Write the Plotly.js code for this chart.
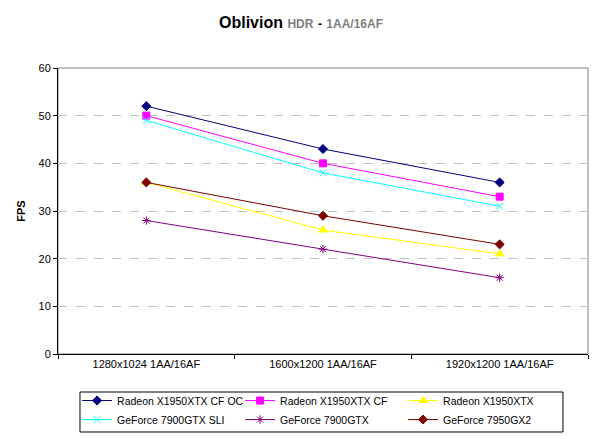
<!DOCTYPE html>
<html>
<head>
<meta charset="utf-8">
<script src="https://cdn.plot.ly/plotly-3.0.1.min.js"></script>
<style>html,body{margin:0;padding:0;background:#fff;}#chart{width:602px;height:439px;}</style>
</head>
<body>
<div id="chart"></div>
<script>
var categories = ["1280x1024 1AA/16AF", "1600x1200 1AA/16AF", "1920x1200 1AA/16AF"];
var seriesNames = ["Radeon X1950XTX CF OC", "Radeon X1950XTX CF", "Radeon X1950XTX", "GeForce 7900GTX SLI", "GeForce 7900GTX", "GeForce 7950GX2"];
var radeonCfOc = [52, 43, 36];
var radeonCf = [50, 40, 33];
var radeonXtx = [36, 26, 21];
var geforceSli = [49, 38, 31];
var geforce7900 = [28, 22, 16];
var geforceGx2 = [36, 29, 23];
var yTicks = [0, 10, 20, 30, 40, 50, 60];

var values = [radeonCfOc, radeonCf, radeonXtx, geforceSli, geforce7900, geforceGx2];
var colors = ["#000080", "#FF00FF", "#FFFF00", "#00FFFF", "#800080", "#800000"];
var symbols = ["diamond", "square", "triangle-up", "x-thin-open", "asterisk-open", "diamond"];
var sizes = [7, 7, 8, 7, 7, 7];

var traces = values.map(function (v, i) {
  return {
    type: "scatter",
    mode: "lines+markers",
    name: seriesNames[i],
    x: categories,
    y: v,
    line: {color: colors[i], width: 1},
    marker: {color: colors[i], symbol: symbols[i], size: sizes[i], line: {color: colors[i], width: 1}}
  };
});

var font = "Arial, 'Liberation Sans', sans-serif";
var layout = {
  width: 602, height: 439,
  margin: {l: 58, r: 14, t: 68, b: 85, autoexpand: false},
  paper_bgcolor: "#fff", plot_bgcolor: "#fff",
  font: {family: font, size: 11, color: "#000"},
  showlegend: true,
  title: {
    text: "<b>Oblivion</b> <b><span style='font-size:12px;color:#808080'>HDR</span></b> <b><span style='font-size:12px'>-</span></b> <b><span style='font-size:12px;color:#808080'>1AA/16AF</span></b>",
    font: {family: font, size: 16, color: "#000"},
    x: 0.5, xref: "container", xanchor: "center",
    y: 0.95, yref: "container", yanchor: "middle"
  },
  xaxis: {
    type: "category",
    range: [-0.5, 2.5],
    tickson: "boundaries",
    ticks: "outside", ticklen: 4, tickcolor: "#000",
    showline: true, linecolor: "#000", linewidth: 1,
    showgrid: false, zeroline: false,
    tickfont: {family: font, size: 11, color: "#000"},
    fixedrange: true
  },
  yaxis: {
    range: [0, 60],
    tickvals: yTicks,
    ticks: "outside", ticklen: 4, tickcolor: "#000",
    showline: true, linecolor: "#000", linewidth: 1,
    showgrid: true, gridcolor: "#c0c0c0", griddash: "dash", gridwidth: 1,
    zeroline: false,
    tickfont: {family: font, size: 11, color: "#000"},
    title: {text: "<b>FPS</b>", font: {family: font, size: 11, color: "#000"}, standoff: 10},
    fixedrange: true
  },
  shapes: [
    {
      type: "rect", xref: "paper", yref: "paper", x0: 0, x1: 1, y0: 0, y1: 1,
      line: {color: "#808080", width: 1}, layer: "below"
    },
    {
      type: "rect", xref: "paper", yref: "paper", x0: 0.0415, x1: 0.9528, y0: -0.2727, y1: -0.1329,
      line: {color: "#000", width: 1}, fillcolor: "rgba(0,0,0,0)", layer: "above"
    }
  ],
  legend: {
    orientation: "h",
    x: 0.036, xanchor: "left",
    y: -0.112, yanchor: "top",
    borderwidth: 0,
    bgcolor: "rgba(0,0,0,0)",
    entrywidth: 118, entrywidthmode: "pixels",
    tracegroupgap: 0,
    font: {family: font, size: 10.5, color: "#000"},
    traceorder: "normal"
  }
};

Plotly.newPlot("chart", traces, layout, {displayModeBar: false, staticPlot: true});
</script>
</body>
</html>
